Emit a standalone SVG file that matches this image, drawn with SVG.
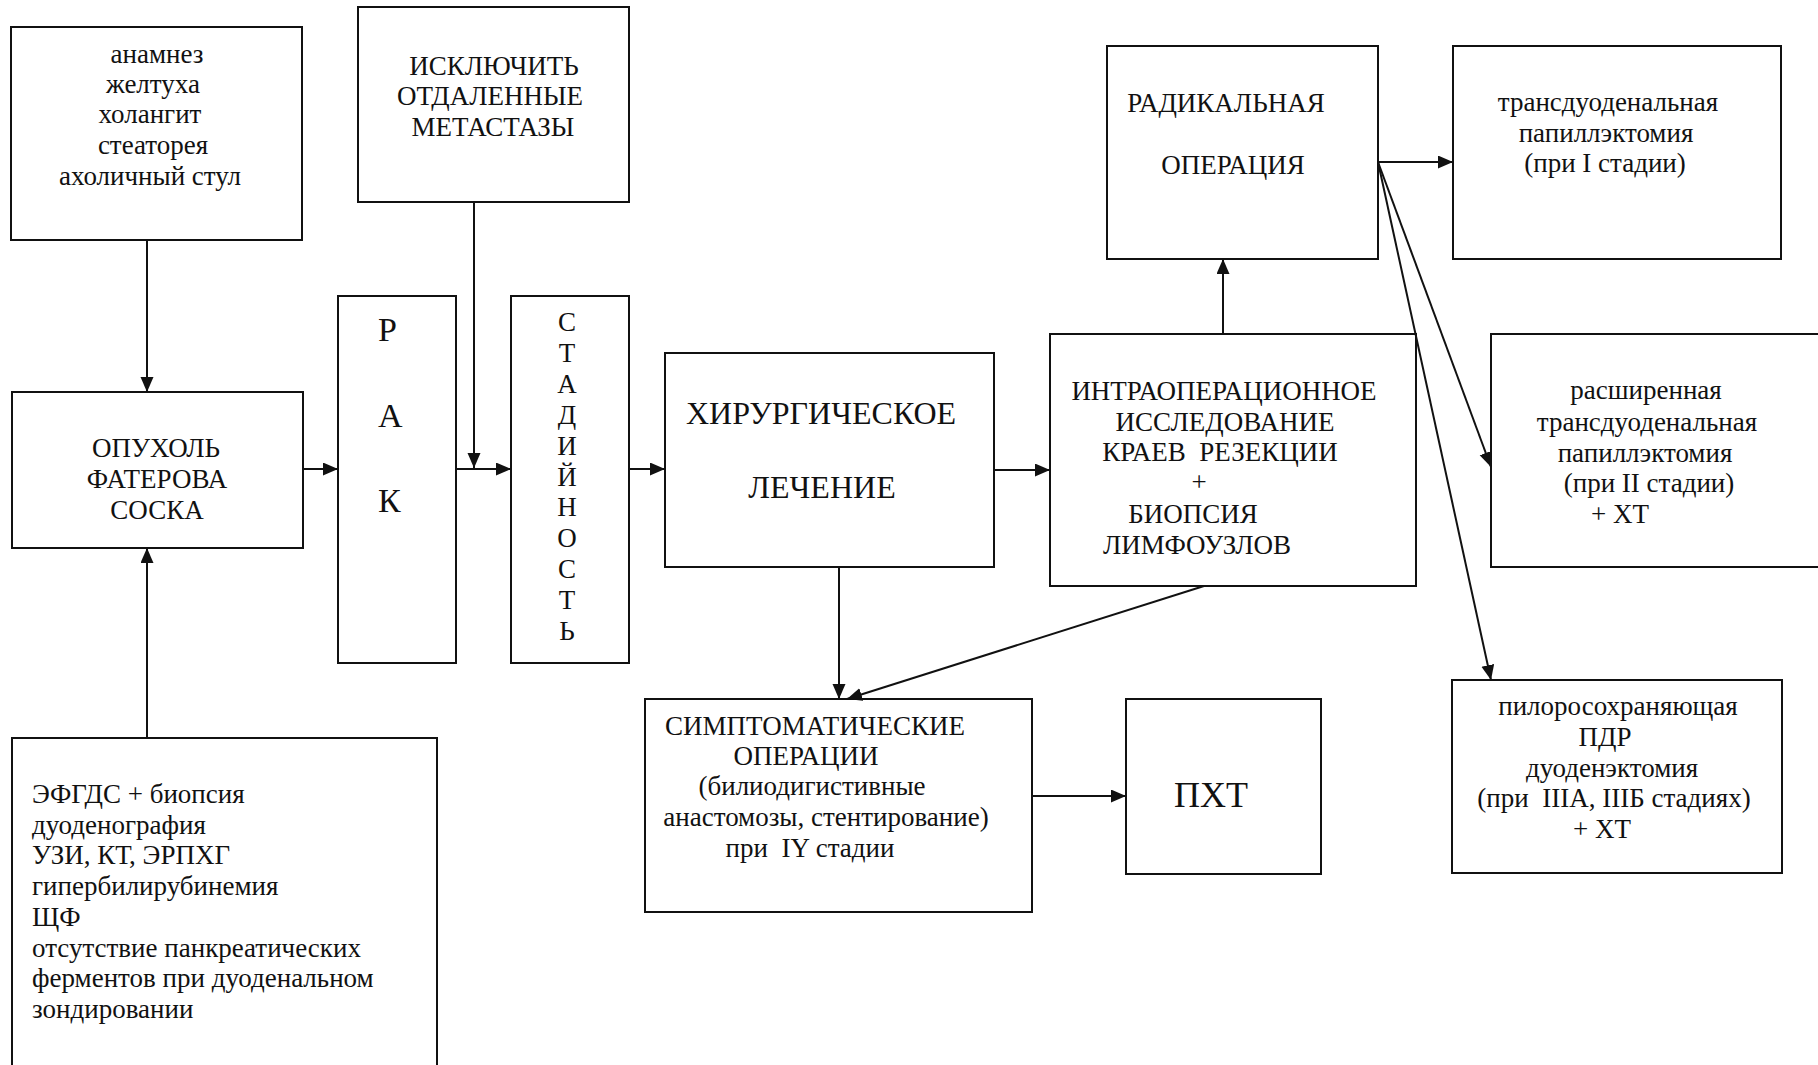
<svg xmlns="http://www.w3.org/2000/svg" width="1818" height="1065" viewBox="0 0 1818 1065">
  <style>
    .box { fill: #ffffff; stroke: #111111; stroke-width: 2; }
    .t { font-family: "Liberation Serif", "Times New Roman", serif; font-size: 27px; fill: #111111; }
    .c { text-anchor: middle; }
    .big { font-size: 32px; }
    .rak { font-size: 34px; }
    .pxt { font-size: 36px; }
    .pre { white-space: pre; }
    .wire { fill: none; stroke: #111111; stroke-width: 2; }
  </style>
  <defs>
    <marker id="arrow" markerUnits="userSpaceOnUse" markerWidth="16" markerHeight="14" refX="15" refY="6.5" orient="auto">
      <path d="M0,0 L15,6.5 L0,13 z" fill="#111111"/>
    </marker>
  </defs>

  <rect x="0" y="0" width="1818" height="1065" fill="#ffffff"/>

  <!-- symptoms -->
  <g id="symptoms">
    <rect class="box" x="11" y="27" width="291" height="213"/>
    <text class="t c" x="157" y="63">анамнез</text>
    <text class="t c" x="153" y="93">желтуха</text>
    <text class="t c" x="150" y="123">холангит</text>
    <text class="t c" x="153" y="154">стеаторея</text>
    <text class="t c" x="150" y="185">ахоличный стул</text>
  </g>

  <!-- exclude distant metastases -->
  <g id="metastases">
    <rect class="box" x="358" y="7" width="271" height="195"/>
    <text class="t c" x="494" y="75">ИСКЛЮЧИТЬ</text>
    <text class="t c" x="490" y="105">ОТДАЛЕННЫЕ</text>
    <text class="t c" x="493" y="136">МЕТАСТАЗЫ</text>
  </g>

  <!-- tumour of the papilla of Vater -->
  <g id="tumour">
    <rect class="box" x="12" y="392" width="291" height="156"/>
    <text class="t c" x="156" y="457">ОПУХОЛЬ</text>
    <text class="t c" x="157" y="488">ФАТЕРОВА</text>
    <text class="t c" x="157" y="519">СОСКА</text>
  </g>

  <!-- diagnostics -->
  <g id="diagnostics">
    <rect class="box" x="12" y="738" width="425" height="340"/>
    <text class="t" x="32" y="803">ЭФГДС + биопсия</text>
    <text class="t" x="32" y="834">дуоденография</text>
    <text class="t" x="32" y="864">УЗИ, КТ, ЭРПХГ</text>
    <text class="t" x="32" y="895">гипербилирубинемия</text>
    <text class="t" x="32" y="926">ЩФ</text>
    <text class="t" x="32" y="957">отсутствие панкреатических</text>
    <text class="t" x="32" y="987">ферментов при дуоденальном</text>
    <text class="t" x="32" y="1018">зондировании</text>
  </g>

  <!-- cancer -->
  <g id="cancer">
    <rect class="box" x="338" y="296" width="118" height="367"/>
    <text class="t rak" x="378" y="341">Р</text>
    <text class="t rak" x="378" y="427">А</text>
    <text class="t rak" x="378" y="512">К</text>
  </g>

  <!-- staging (vertical letters) -->
  <g id="staging">
    <rect class="box" x="511" y="296" width="118" height="367"/>
    <text class="t c" x="567" y="331">С</text>
    <text class="t c" x="567" y="362">Т</text>
    <text class="t c" x="567" y="393">А</text>
    <text class="t c" x="567" y="424">Д</text>
    <text class="t c" x="567" y="455">И</text>
    <text class="t c" x="567" y="486">Й</text>
    <text class="t c" x="567" y="516">Н</text>
    <text class="t c" x="567" y="547">О</text>
    <text class="t c" x="567" y="578">С</text>
    <text class="t c" x="567" y="609">Т</text>
    <text class="t c" x="567" y="640">Ь</text>
  </g>

  <!-- surgical treatment -->
  <g id="surgery">
    <rect class="box" x="665" y="353" width="329" height="214"/>
    <text class="t c big" x="821" y="424">ХИРУРГИЧЕСКОЕ</text>
    <text class="t c big" x="822" y="498">ЛЕЧЕНИЕ</text>
  </g>

  <!-- intraoperative examination -->
  <g id="intraop">
    <rect class="box" x="1050" y="334" width="366" height="252"/>
    <text class="t c" x="1224" y="400">ИНТРАОПЕРАЦИОННОЕ</text>
    <text class="t c" x="1225" y="431">ИССЛЕДОВАНИЕ</text>
    <text class="t c pre" x="1220" y="461">КРАЕВ  РЕЗЕКЦИИ</text>
    <text class="t c" x="1199" y="491">+</text>
    <text class="t c" x="1193" y="523">БИОПСИЯ</text>
    <text class="t c" x="1197" y="554">ЛИМФОУЗЛОВ</text>
  </g>

  <!-- radical operation -->
  <g id="radical">
    <rect class="box" x="1107" y="46" width="271" height="213"/>
    <text class="t c" x="1226" y="112">РАДИКАЛЬНАЯ</text>
    <text class="t c" x="1233" y="174">ОПЕРАЦИЯ</text>
  </g>

  <!-- stage I -->
  <g id="stage1">
    <rect class="box" x="1453" y="46" width="328" height="213"/>
    <text class="t c" x="1608" y="111">трансдуоденальная</text>
    <text class="t c" x="1606" y="142">папиллэктомия</text>
    <text class="t c" x="1605" y="172">(при I стадии)</text>
  </g>

  <!-- stage II -->
  <g id="stage2">
    <rect class="box" x="1491" y="334" width="340" height="233"/>
    <text class="t c" x="1646" y="399">расширенная</text>
    <text class="t c" x="1647" y="431">трансдуоденальная</text>
    <text class="t c" x="1645" y="462">папиллэктомия</text>
    <text class="t c" x="1649" y="492">(при II стадии)</text>
    <text class="t c" x="1620" y="523">+ ХТ</text>
  </g>

  <!-- stage III -->
  <g id="stage3">
    <rect class="box" x="1452" y="680" width="330" height="193"/>
    <text class="t c" x="1618" y="715">пилоросохраняющая</text>
    <text class="t c" x="1605" y="746">ПДР</text>
    <text class="t c" x="1612" y="777">дуоденэктомия</text>
    <text class="t c pre" x="1614" y="807">(при  IIIА, IIIБ стадиях)</text>
    <text class="t c" x="1602" y="838">+ ХТ</text>
  </g>

  <!-- palliative operations -->
  <g id="palliative">
    <rect class="box" x="645" y="699" width="387" height="213"/>
    <text class="t c" x="815" y="735">СИМПТОМАТИЧЕСКИЕ</text>
    <text class="t c" x="806" y="765">ОПЕРАЦИИ</text>
    <text class="t c" x="812" y="795">(билиодигистивные</text>
    <text class="t c" x="826" y="826">анастомозы, стентирование)</text>
    <text class="t c pre" x="810" y="857">при  IY стадии</text>
  </g>

  <!-- chemotherapy -->
  <g id="chemo">
    <rect class="box" x="1126" y="699" width="195" height="175"/>
    <text class="t c pxt" x="1211" y="807">ПХТ</text>
  </g>

  <!-- connectors -->
  <g id="connectors">
    <line class="wire" x1="147" y1="240" x2="147" y2="392" marker-end="url(#arrow)"/>
    <line class="wire" x1="147" y1="738" x2="147" y2="548" marker-end="url(#arrow)"/>
    <line class="wire" x1="303" y1="469" x2="338" y2="469" marker-end="url(#arrow)"/>
    <line class="wire" x1="456" y1="469" x2="511" y2="469" marker-end="url(#arrow)"/>
    <line class="wire" x1="474" y1="202" x2="474" y2="468" marker-end="url(#arrow)"/>
    <line class="wire" x1="629" y1="469" x2="665" y2="469" marker-end="url(#arrow)"/>
    <line class="wire" x1="994" y1="470" x2="1050" y2="470" marker-end="url(#arrow)"/>
    <line class="wire" x1="839" y1="567" x2="839" y2="699" marker-end="url(#arrow)"/>
    <line class="wire" x1="1204" y1="586" x2="847" y2="699" marker-end="url(#arrow)"/>
    <line class="wire" x1="1223" y1="334" x2="1223" y2="259" marker-end="url(#arrow)"/>
    <line class="wire" x1="1378" y1="162" x2="1453" y2="162" marker-end="url(#arrow)"/>
    <line class="wire" x1="1378" y1="162" x2="1491" y2="467" marker-end="url(#arrow)"/>
    <line class="wire" x1="1378" y1="162" x2="1491" y2="680" marker-end="url(#arrow)"/>
    <line class="wire" x1="1032" y1="796" x2="1126" y2="796" marker-end="url(#arrow)"/>
  </g>
</svg>
